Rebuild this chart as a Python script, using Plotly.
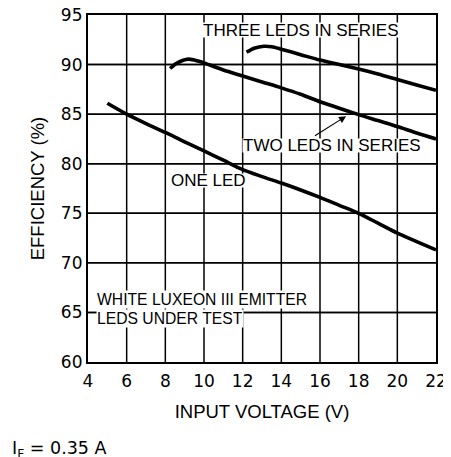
import plotly.graph_objects as go

# Data
one_led_v = [5.0, 6.0, 7.0, 8.0, 9.0, 10.0, 11.0, 12.0, 13.0, 14.0, 15.0, 16.0, 17.0, 18.0, 19.0, 20.0, 21.0, 22.0]
one_led_eff = [86.1, 85.0, 84.05, 83.15, 82.2, 81.3, 80.35, 79.4, 78.7, 78.05, 77.35, 76.6, 75.8, 75.0, 74.0, 73.0, 72.15, 71.3]

two_led_v = [8.25, 8.6, 9.2, 9.7, 10.3, 11.0, 12.0, 13.0, 14.0, 15.0, 16.0, 17.0, 18.0, 19.0, 20.0, 21.0, 22.0]
two_led_eff = [89.6, 90.15, 90.55, 90.35, 89.95, 89.45, 88.85, 88.25, 87.65, 87.0, 86.25, 85.6, 84.95, 84.35, 83.75, 83.1, 82.5]

three_led_v = [12.2, 12.6, 13.1, 13.5, 14.0, 15.0, 16.0, 17.0, 18.0, 19.0, 20.0, 21.0, 22.0]
three_led_eff = [91.25, 91.65, 91.85, 91.8, 91.55, 91.0, 90.45, 90.0, 89.55, 89.05, 88.5, 87.95, 87.4]

x_ticks = [4, 6, 8, 10, 12, 14, 16, 18, 20, 22]
y_ticks = [60, 65, 70, 75, 80, 85, 90, 95]
x_range = [4, 22]
y_range = [60, 95]

FONT = "Liberation Sans, Arial, sans-serif"
NUMFONT = "DejaVu Sans, Liberation Sans, sans-serif"

fig = go.Figure()

# vertical grid lines at the x tick values
for v in x_ticks[1:-1]:
    fig.add_trace(go.Scatter(x=[v, v], y=y_range, mode="lines",
                             line=dict(color="black", width=1.5),
                             showlegend=False, hoverinfo="skip"))
# horizontal grid lines at the y tick values (polyline through every x tick)
for v in y_ticks[1:-1]:
    fig.add_trace(go.Scatter(x=x_ticks, y=[v] * len(x_ticks), mode="lines",
                             line=dict(color="black", width=1.5, simplify=False),
                             showlegend=False, hoverinfo="skip"))
    # same grid line also as a layout shape (positioned via the y scale)
    fig.add_shape(type="line", xref="x domain", yref="y", x0=0, x1=1, y0=v, y1=v,
                  line=dict(color="black", width=1.5), layer="below")

for xs, ys in [(one_led_v, one_led_eff), (two_led_v, two_led_eff), (three_led_v, three_led_eff)]:
    fig.add_trace(go.Scatter(x=xs, y=ys, mode="lines",
                             line=dict(color="black", width=3.6, shape="spline", smoothing=0.8),
                             showlegend=False, hoverinfo="skip"))

def label(text, x, y, xanchor="center", size=17, h=14):
    fig.add_annotation(x=x, y=y, xref="x", yref="y", text=text, showarrow=False,
                       xanchor=xanchor, yanchor="middle", height=h, valign="middle",
                       font=dict(family=FONT, size=size, color="black"),
                       bgcolor="white", borderpad=0)

label("THREE LEDS IN SERIES", 15.0, 93.5)
label("TWO LEDS IN SERIES", 16.6, 81.83, h=13)
label("ONE LED", 10.25, 78.27, h=13)
label("WHITE LUXEON III EMITTER", 4.4, 66.3, xanchor="left", size=15.7, h=17)
label("LEDS UNDER TEST", 4.4, 64.4, xanchor="left", size=15.7, h=17)

# arrow pointing at the two-LED curve
fig.add_annotation(x=17.35, y=84.8, ax=15.66, ay=82.72, xref="x", yref="y",
                   axref="x", ayref="y", text="", showarrow=True,
                   arrowhead=2, arrowsize=1.3, arrowwidth=1.1, arrowcolor="black",
                   standoff=0, startstandoff=0)

fig.add_annotation(x=-0.225, y=-0.252, xref="paper", yref="paper",
                   text="I<sub>F</sub> = 0.35 A", showarrow=False,
                   xanchor="left", yanchor="middle",
                   font=dict(family=NUMFONT, size=17.5, color="black"))

fig.update_xaxes(range=x_range, tickmode="array", tickvals=x_ticks,
                 ticktext=[str(v) for v in x_ticks], showgrid=False,
                 showline=True, linecolor="black", linewidth=2.2, mirror=True,
                 ticks="", zeroline=False, ticklabelstandoff=2, ticklabeloverflow="allow",
                 tickfont=dict(family=NUMFONT, size=17, color="black"),
                 title=dict(text="INPUT VOLTAGE (V)", font=dict(family=FONT, size=18.5, color="black"),
                            standoff=16))
fig.update_yaxes(range=y_range, tickmode="array", tickvals=y_ticks,
                 ticktext=[str(v) for v in y_ticks], showgrid=False,
                 showline=True, linecolor="black", linewidth=2.2, mirror=True,
                 ticks="", zeroline=False, ticklabeloverflow="allow",
                 tickfont=dict(family=NUMFONT, size=17, color="black"),
                 title=dict(text="EFFICIENCY (%)", font=dict(family=FONT, size=18.5, color="black"),
                            standoff=11))

# page has an 8px body margin: figure offset accounted for in size/margins
fig.update_layout(template="none", width=443, height=449,
                  margin=dict(l=80, r=15, t=7, b=95),
                  paper_bgcolor="white", plot_bgcolor="white",
                  font=dict(family=FONT, color="black"))

fig.write_html("out.html")
